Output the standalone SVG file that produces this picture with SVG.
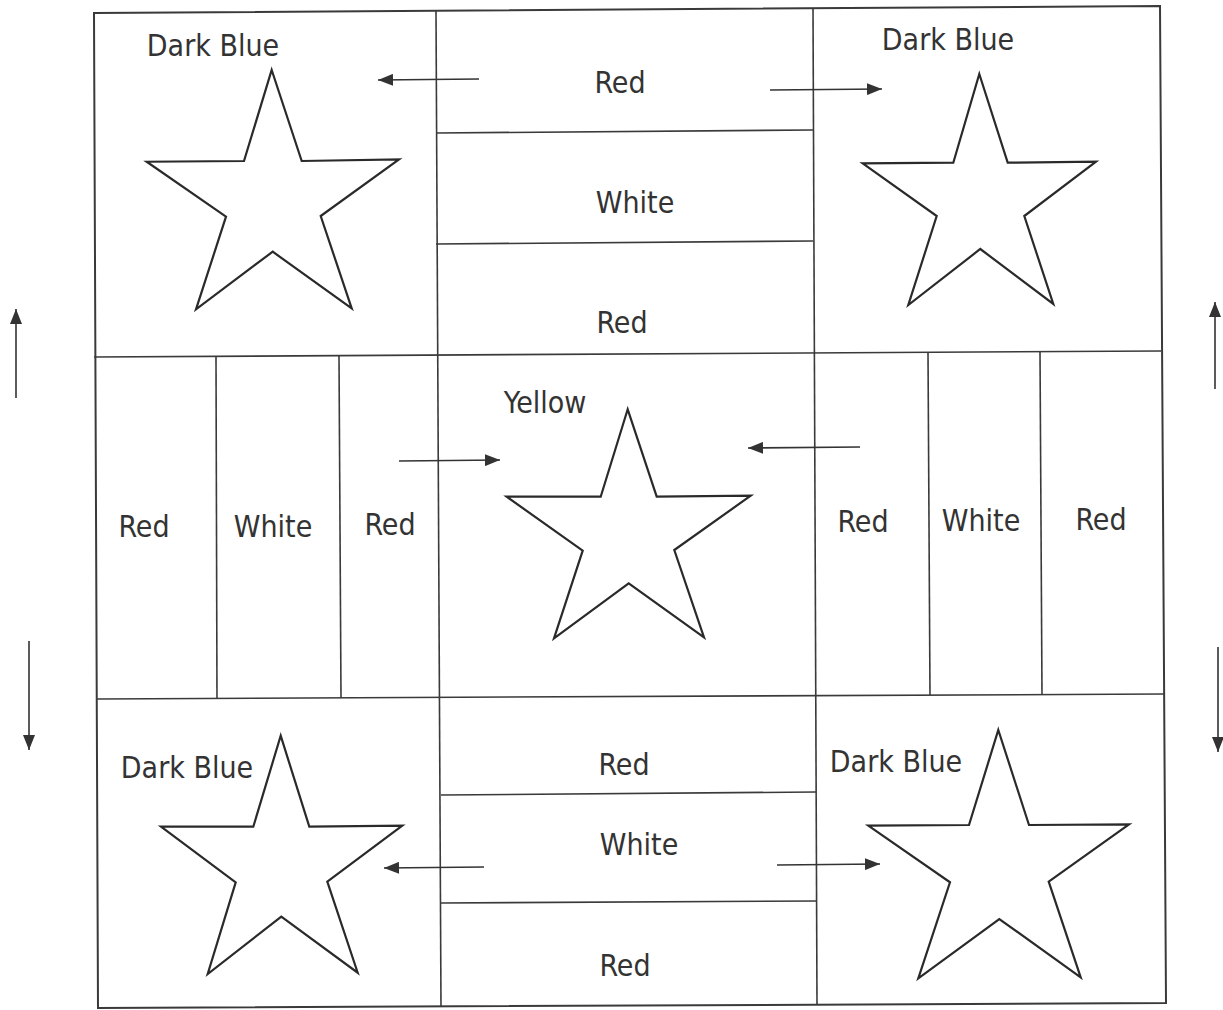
<svg xmlns="http://www.w3.org/2000/svg" width="1223" height="1010" viewBox="0 0 1223 1010">
<style>
.bg{fill:#fff}
.ln{stroke:#3a3a3a;stroke-width:1.6;fill:none}
.frame{stroke:#3a3a3a;stroke-width:2;fill:none}
.star{stroke:#2a2a2a;stroke-width:2.2;fill:none;stroke-linejoin:miter}
.lbl{font-family:"DejaVu Sans Condensed","DejaVu Sans",sans-serif;font-size:30px;fill:#333;text-anchor:middle}
.arr{stroke:#333;stroke-width:1.6;fill:none;marker-end:url(#ah)}
</style>
<defs>
<marker id="ah" markerUnits="userSpaceOnUse" markerWidth="16" markerHeight="12" refX="15" refY="6" orient="auto">
<path d="M0,0 L15,6 L0,12 z" fill="#333"/>
</marker>
</defs>
<rect class="bg" x="0" y="0" width="1223" height="1010"/>
<g id="grid">
<polygon class="frame" points="94,13 1160,6 1166,1003 98,1008"/>
<line class="ln" x1="94" y1="357" x2="1161" y2="351"/>
<line class="ln" x1="97" y1="699" x2="1164" y2="694"/>
<line class="ln" x1="436" y1="11" x2="441" y2="1007"/>
<line class="ln" x1="813" y1="8" x2="817" y2="1004"/>
<line class="ln" x1="436" y1="133" x2="813" y2="130"/>
<line class="ln" x1="436" y1="244" x2="813" y2="241"/>
<line class="ln" x1="441" y1="795" x2="816" y2="792"/>
<line class="ln" x1="441" y1="903" x2="817" y2="901"/>
<line class="ln" x1="216" y1="357" x2="217" y2="699"/>
<line class="ln" x1="339" y1="356" x2="341" y2="698"/>
<line class="ln" x1="928" y1="352" x2="930" y2="695"/>
<line class="ln" x1="1040" y1="352" x2="1042" y2="694"/>
</g>
<g id="star-tl"><polygon class="star" points="271.7,70 301.7,161 399,159.3 320.7,216 351.7,308.3 272.7,251.7 196,309.3 226,216.7 146.7,161.7 244,161"/></g>
<g id="star-tr"><polygon class="star" points="979.3,74 1007.7,162.7 1096,161.7 1024.3,216 1053.3,304 980.3,249 908.3,305 936.7,216 862.7,163.3 953.3,162.7"/></g>
<g id="star-center"><polygon class="star" points="627.7,409.3 656.7,496.7 750.7,495.7 674.3,550 704,637.3 628.7,583.3 554,638.3 582.7,550.7 506.7,496.7 600.7,496.7"/></g>
<g id="star-bl"><polygon class="star" points="280.7,735.7 309.3,826.7 402.3,825.7 327.3,881.7 357.7,972.7 281.3,916.7 207.7,974 235.7,882.3 161,826.7 253.3,826.7"/></g>
<g id="star-br"><polygon class="star" points="998.3,730 1029,825 1129,824.3 1048.7,881.7 1080.7,977.3 999.3,919 918.3,978.3 950,882.3 868.3,825.7 969,825"/></g>
<g id="labels">
<text class="lbl" x="213" y="56">Dark Blue</text>
<text class="lbl" x="948" y="50">Dark Blue</text>
<text class="lbl" x="620" y="93">Red</text>
<text class="lbl" x="635" y="213">White</text>
<text class="lbl" x="622" y="333">Red</text>
<text class="lbl" x="545" y="413">Yellow</text>
<text class="lbl" x="144" y="537">Red</text>
<text class="lbl" x="273" y="537">White</text>
<text class="lbl" x="390" y="535">Red</text>
<text class="lbl" x="863" y="532">Red</text>
<text class="lbl" x="981" y="531">White</text>
<text class="lbl" x="1101" y="530">Red</text>
<text class="lbl" x="187" y="778">Dark Blue</text>
<text class="lbl" x="896" y="772">Dark Blue</text>
<text class="lbl" x="624" y="775">Red</text>
<text class="lbl" x="639" y="855">White</text>
<text class="lbl" x="625" y="976">Red</text>
</g>
<g id="connectors">
<line class="arr" x1="479" y1="79" x2="378" y2="80"/>
<line class="arr" x1="770" y1="90" x2="882" y2="89"/>
<line class="arr" x1="399" y1="461" x2="500" y2="460"/>
<line class="arr" x1="860" y1="447" x2="748" y2="448"/>
<line class="arr" x1="484" y1="867" x2="384" y2="868"/>
<line class="arr" x1="777" y1="865" x2="880" y2="864"/>
<line class="arr" x1="16" y1="398" x2="16" y2="309"/>
<line class="arr" x1="29" y1="641" x2="29" y2="750"/>
<line class="arr" x1="1215" y1="389" x2="1215" y2="302"/>
<line class="arr" x1="1218" y1="647" x2="1218" y2="752"/>
</g>
</svg>
